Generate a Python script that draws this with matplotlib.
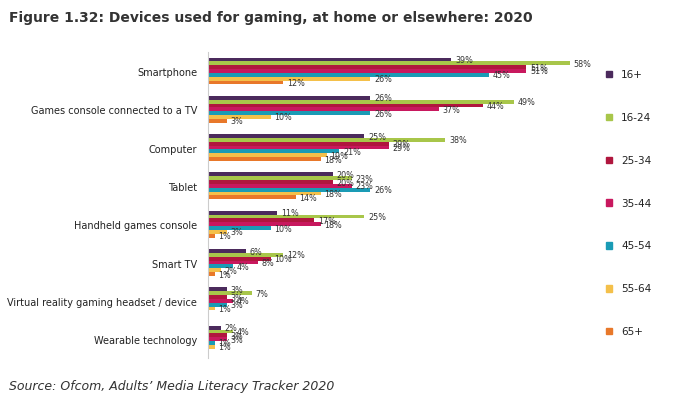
import matplotlib.pyplot as plt
import numpy as np

devices = ["Smartphone", "Games console connected to a TV", "Computer", "Tablet",
           "Handheld games console", "Smart TV", "Virtual reality gaming headset / device",
           "Wearable technology"]
ages = ["16+", "16-24", "25-34", "35-44", "45-54", "55-64", "65+"]
v_16plus = [39, 26, 25, 20, 11, 6, 3, 2]
v_16_24 = [58, 49, 38, 23, 25, 12, 7, 4]
v_25_34 = [51, 44, 29, 20, 17, 10, 3, 3]
v_35_44 = [51, 37, 29, 23, 18, 8, 4, 3]
v_45_54 = [45, 26, 21, 26, 10, 4, 3, 1]
v_55_64 = [26, 10, 19, 18, 3, 2, 1, 1]
v_65plus = [12, 3, 18, 14, 1, 1, 0, 0]
series = [v_16plus, v_16_24, v_25_34, v_35_44, v_45_54, v_55_64, v_65plus]
colors = ["#4b2a5c", "#a8c64a", "#b0163e", "#c8185e", "#1a9bb5", "#f4c04a", "#e8782a"]

fig = plt.figure(figsize=(6.9, 4.06), dpi=100)
ax = fig.add_axes([0.302, 0.115, 0.56, 0.755])
bh = 0.1
y0 = np.arange(len(devices))
for i, (vals, c) in enumerate(zip(series, colors)):
    ys = y0 + (i - 3) * bh
    ax.barh(ys, vals, height=bh, color=c)
    for y, v in zip(ys, vals):
        if v > 0:
            ax.text(v + 0.6, y, f"{v}%", fontsize=5.8, va="center", color="#333333")

ax.set_yticks(y0)
ax.set_yticklabels(devices, fontsize=7, color="#222222")
ax.tick_params(axis="y", length=0, pad=8)
ax.set_xticks([])
ax.set_xlim(0, 62)
ax.set_ylim(len(devices) - 0.5, -0.5)
for s in ["top", "right", "bottom"]:
    ax.spines[s].set_visible(False)
ax.spines["left"].set_color("#cccccc")

# legend on the right
for i, (a, c) in enumerate(zip(ages, colors)):
    yy = 0.815 - i * 0.1055
    fig.patches.append(plt.Rectangle((0.878, yy - 0.008), 0.009, 0.016, color=c, transform=fig.transFigure))
    fig.text(0.9, yy, a, fontsize=7.5, va="center", color="#222222")

fig.text(0.013, 0.945, "Figure 1.32: Devices used for gaming, at home or elsewhere: 2020",
         fontsize=10, fontweight="bold", color="#333333")
fig.text(0.013, 0.04, "Source: Ofcom, Adults\u2019 Media Literacy Tracker 2020",
         fontsize=9, style="italic", color="#333333")
fig.savefig("out.png")
